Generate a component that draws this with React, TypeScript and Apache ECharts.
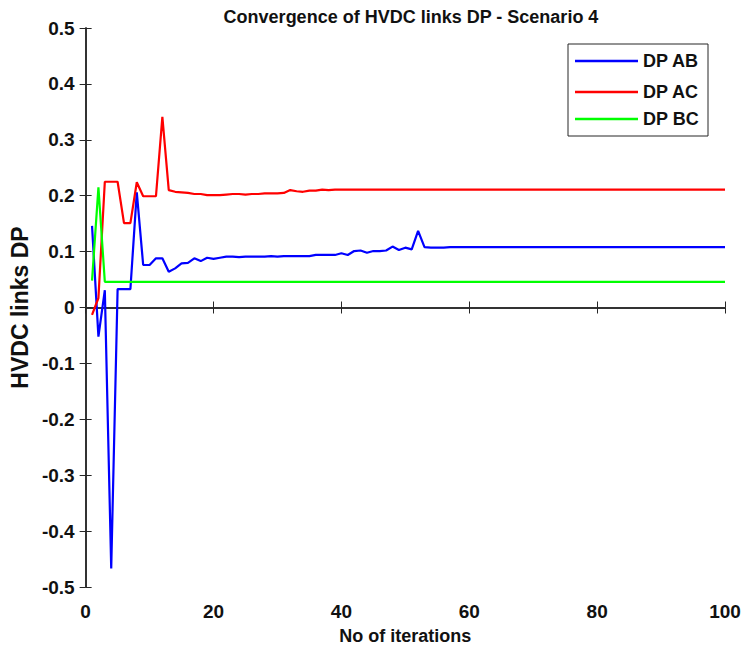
import React, { useEffect, useRef } from "react";
import * as echarts from "echarts";

const titleText = "Convergence of HVDC links DP - Scenario 4";
const xName = "No of iterations";
const yName = "HVDC links DP";
const seriesNames = ["DP AB", "DP AC", "DP BC"];
const seriesColors = ["#0000ff", "#ff0000", "#00ff00"];

// iteration index 1..100
const iterations: number[] = Array.from({ length: 100 }, (_, i) => i + 1);

const dpAB: number[] = [
  0.146, -0.052, 0.031, -0.467, 0.033, 0.033, 0.033, 0.206, 0.076, 0.076,
  0.088, 0.088, 0.064, 0.070, 0.079, 0.080, 0.088, 0.083, 0.089, 0.087,
  0.089, 0.091, 0.091, 0.090, 0.091, 0.091, 0.091, 0.091, 0.092, 0.091,
  0.092, 0.092, 0.092, 0.092, 0.092, 0.094, 0.094, 0.094, 0.094, 0.097,
  0.094, 0.101, 0.102, 0.098, 0.101, 0.101, 0.102, 0.109, 0.103, 0.107,
  0.104, 0.137, 0.108, 0.107, 0.107, 0.107, 0.108, 0.108, 0.108, 0.108,
  0.108, 0.108, 0.108, 0.108, 0.108, 0.108, 0.108, 0.108, 0.108, 0.108,
  0.108, 0.108, 0.108, 0.108, 0.108, 0.108, 0.108, 0.108, 0.108, 0.108,
  0.108, 0.108, 0.108, 0.108, 0.108, 0.108, 0.108, 0.108, 0.108, 0.108,
  0.108, 0.108, 0.108, 0.108, 0.108, 0.108, 0.108, 0.108, 0.108, 0.108,
];

const dpAC: number[] = [
  -0.013, 0.017, 0.225, 0.225, 0.225, 0.151, 0.151, 0.224, 0.199, 0.199,
  0.199, 0.341, 0.210, 0.207, 0.206, 0.205, 0.203, 0.203, 0.201, 0.201,
  0.201, 0.202, 0.203, 0.203, 0.202, 0.203, 0.203, 0.204, 0.204, 0.204,
  0.205, 0.210, 0.208, 0.207, 0.209, 0.209, 0.211, 0.210, 0.211, 0.211,
  0.211, 0.211, 0.211, 0.211, 0.211, 0.211, 0.211, 0.211, 0.211, 0.211,
  0.211, 0.211, 0.211, 0.211, 0.211, 0.211, 0.211, 0.211, 0.211, 0.211,
  0.211, 0.211, 0.211, 0.211, 0.211, 0.211, 0.211, 0.211, 0.211, 0.211,
  0.211, 0.211, 0.211, 0.211, 0.211, 0.211, 0.211, 0.211, 0.211, 0.211,
  0.211, 0.211, 0.211, 0.211, 0.211, 0.211, 0.211, 0.211, 0.211, 0.211,
  0.211, 0.211, 0.211, 0.211, 0.211, 0.211, 0.211, 0.211, 0.211, 0.211,
];

const dpBC: number[] = [
  0.048, 0.215, 0.046, 0.046, 0.046, 0.046, 0.046, 0.046, 0.046, 0.046,
  0.046, 0.046, 0.046, 0.046, 0.046, 0.046, 0.046, 0.046, 0.046, 0.046,
  0.046, 0.046, 0.046, 0.046, 0.046, 0.046, 0.046, 0.046, 0.046, 0.046,
  0.046, 0.046, 0.046, 0.046, 0.046, 0.046, 0.046, 0.046, 0.046, 0.046,
  0.046, 0.046, 0.046, 0.046, 0.046, 0.046, 0.046, 0.046, 0.046, 0.046,
  0.046, 0.046, 0.046, 0.046, 0.046, 0.046, 0.046, 0.046, 0.046, 0.046,
  0.046, 0.046, 0.046, 0.046, 0.046, 0.046, 0.046, 0.046, 0.046, 0.046,
  0.046, 0.046, 0.046, 0.046, 0.046, 0.046, 0.046, 0.046, 0.046, 0.046,
  0.046, 0.046, 0.046, 0.046, 0.046, 0.046, 0.046, 0.046, 0.046, 0.046,
  0.046, 0.046, 0.046, 0.046, 0.046, 0.046, 0.046, 0.046, 0.046, 0.046,
];

const xTicks = { min: 0, max: 100, interval: 20 };
const yTicks = { min: -0.5, max: 0.5, interval: 0.1 };

const FONT = "'Liberation Sans', Arial, Helvetica, sans-serif";
const AXIS_COLOR = "#262626";

export default function App() {
  const ref = useRef<HTMLDivElement>(null);

  useEffect(() => {
    if (!ref.current) return;
    const chart = echarts.init(ref.current, null, { renderer: "svg" });
    const allSeries = [dpAB, dpAC, dpBC];

    const axisLine = { show: true, lineStyle: { color: AXIS_COLOR, width: 1.5 } };
    const tickStyle = { show: true, inside: true, length: 6, lineStyle: { color: AXIS_COLOR, width: 1 } };
    const labelStyle = { color: "#111", fontFamily: FONT, fontWeight: "bold" as const, fontSize: 19 };

    const legendTops = [52, 83, 110];

    chart.setOption({
      animation: false,
      backgroundColor: "#ffffff",
      title: {
        text: titleText,
        left: 406,
        top: 3,
        textAlign: "center",
        textStyle: { fontFamily: FONT, fontWeight: "bold", fontSize: 18, color: "#111" },
      },
      grid: { left: 83, right: 21, top: 28, bottom: 64, containLabel: false },
      legend: seriesNames.map((n, i) => ({
        data: [{ name: n, icon: "rect" }],
        left: 575,
        top: legendTops[i],
        padding: 0,
        itemWidth: 63,
        itemHeight: 2.5,
        itemGap: 5,
        selectedMode: false,
        textStyle: { fontFamily: FONT, fontWeight: "bold", fontSize: 18, color: "#111" },
      })),
      graphic: [
        {
          type: "rect",
          shape: { x: 568, y: 44, width: 140, height: 92 },
          style: { fill: "#ffffff", stroke: AXIS_COLOR, lineWidth: 1 },
          z: 0,
          silent: true,
        },
      ],
      xAxis: [
        {
          type: "value",
          position: "bottom",
          ...xTicks,
          name: xName,
          nameLocation: "middle",
          nameGap: 40,
          nameTextStyle: { fontFamily: FONT, fontWeight: "bold", fontSize: 18, color: "#111" },
          axisLine,
          axisTick: tickStyle,
          axisLabel: { ...labelStyle, margin: 15 },
          splitLine: { show: false },
        },
        {
          type: "value",
          position: "top",
          ...xTicks,
          axisLine,
          axisTick: tickStyle,
          axisLabel: { show: false },
          splitLine: { show: false },
        },
      ],
      yAxis: [
        {
          type: "value",
          position: "left",
          ...yTicks,
          name: yName,
          nameLocation: "middle",
          nameGap: 54,
          nameTextStyle: { fontFamily: FONT, fontWeight: "bold", fontSize: 23, color: "#111" },
          axisLine,
          axisTick: tickStyle,
          axisLabel: {
            ...labelStyle,
            margin: 11,
            formatter: (v: number) => String(Math.round(v * 10) / 10),
          },
          splitLine: { show: false },
        },
        {
          type: "value",
          position: "right",
          ...yTicks,
          axisLine,
          axisTick: tickStyle,
          axisLabel: { show: false },
          splitLine: { show: false },
        },
      ],
      series: seriesNames.map((n, i) => ({
        name: n,
        type: "line",
        xAxisIndex: 0,
        yAxisIndex: 0,
        showSymbol: false,
        symbol: "none",
        color: seriesColors[i],
        lineStyle: { color: seriesColors[i], width: 2.2 },
        data: iterations.map((x, k) => [x, allSeries[i][k]]),
        z: 2,
      })),
    });

    return () => chart.dispose();
  }, []);

  return (
    <div
      ref={ref}
      style={{ position: "fixed", left: 0, top: 0, width: 746, height: 651, background: "#fff" }}
    />
  );
}
